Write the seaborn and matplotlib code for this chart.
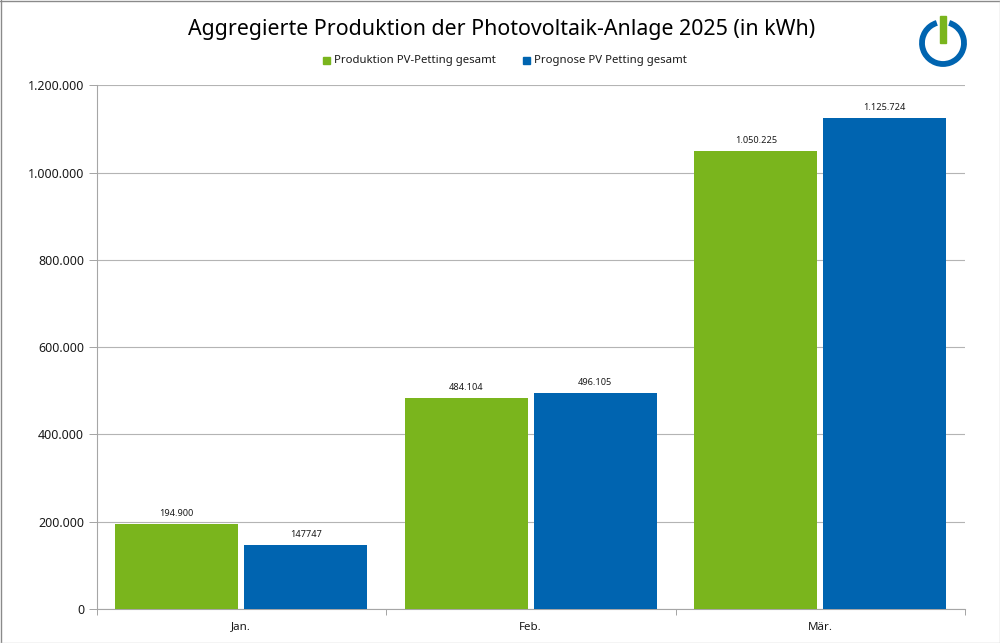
import matplotlib
matplotlib.use("Agg")
import matplotlib.pyplot as plt
import pandas as pd
import seaborn as sns
from matplotlib.patches import Arc, Rectangle

months = ["Jan.", "Feb.", "Mär."]
produktion = [194900, 484104, 1050225]
prognose = [147747, 496105, 1125724]
produktion_labels = ["194.900", "484.104", "1.050.225"]
prognose_labels = ["147747", "496.105", "1.125.724"]
y_ticks = [0, 200000, 400000, 600000, 800000, 1000000, 1200000]
y_tick_labels = ["0", "200.000", "400.000", "600.000", "800.000", "1.000.000", "1.200.000"]

GREEN = "#7ab51d"
BLUE = "#0064b0"
W, H = 1000, 643

sns.set_theme(style="white")
plt.rcParams["font.family"] = ["Noto Sans", "DejaVu Sans"]

df = pd.DataFrame({
    "Monat": months * 2,
    "kWh": produktion + prognose,
    "Serie": ["Produktion PV-Petting gesamt"] * 3 + ["Prognose PV Petting gesamt"] * 3,
})

fig = plt.figure(figsize=(W / 100, H / 100), dpi=100, facecolor="white")
ax = fig.add_axes([96.5 / W, 1 - 609 / H, (965 - 96.5) / W, (609 - 85.4) / H])

sns.barplot(data=df, x="Monat", y="kWh", hue="Serie", palette=[GREEN, BLUE],
            width=0.891, gap=0.046, saturation=1, linewidth=0, ax=ax, legend=False, zorder=3)

ax.set_xlim(-0.5, 2.5)
ax.set_ylim(0, 1200000)
ax.set_xlabel("")
ax.set_ylabel("")
ax.set_yticks(y_ticks)
ax.set_yticklabels(y_tick_labels)
ax.set_xticks([0.5, 1.5, 2.5, -0.5], minor=True)
ax.tick_params(axis="y", length=6, width=0.72, color="#a6a6a6", labelsize=9, labelcolor="#1a1a1a", pad=3, left=True)
ax.tick_params(axis="x", which="major", length=0, labelsize=8.3, labelcolor="#1a1a1a", pad=9)
ax.tick_params(axis="x", which="minor", length=4, width=0.72, color="#a6a6a6", bottom=True)
ax.grid(axis="y", color="#b4b4b4", linewidth=0.8)
ax.set_axisbelow(True)
for side in ["top", "right"]:
    ax.spines[side].set_visible(False)
for side in ["left", "bottom"]:
    ax.spines[side].set_color("#a6a6a6")
    ax.spines[side].set_linewidth(0.8)

# value labels are strings, the Jan. forecast has no separator in the original
ax.bar_label(ax.containers[0], labels=produktion_labels, fontsize=6.6, color="#1a1a1a", padding=4)
ax.bar_label(ax.containers[1], labels=prognose_labels, fontsize=6.6, color="#1a1a1a", padding=4)

fig.text(502 / W, 1 - 29 / H, "Aggregierte Produktion der Photovoltaik-Anlage 2025 (in kWh)",
         ha="center", va="center", fontsize=15.4, color="black")

# legend
fig.patches.append(Rectangle((323 / W, 1 - 64 / H), 7 / W, 7 / H, transform=fig.transFigure, color=GREEN))
fig.text(334 / W, 1 - 60 / H, "Produktion PV-Petting gesamt", va="center", fontsize=8.2, color="#1a1a1a")
fig.patches.append(Rectangle((522.5 / W, 1 - 64 / H), 7 / W, 7 / H, transform=fig.transFigure, color=BLUE))
fig.text(533.5 / W, 1 - 60 / H, "Prognose PV Petting gesamt", va="center", fontsize=8.2, color="#1a1a1a")

# logo
logo = fig.add_axes([915 / W, 1 - 70 / H, 56 / W, 56 / H])
logo.set_xlim(915, 971)
logo.set_ylim(70, 14)
logo.axis("off")
logo.add_patch(Arc((943, 43), 42, 42, theta1=-73, theta2=253, color=BLUE, linewidth=4.2))
logo.add_patch(Rectangle((940.3, 16), 5.5, 27, color=GREEN))

# outer frame
fig.add_artist(plt.Line2D([0.5 / W, 0.5 / W], [0, 1], color="#8a8a8a", linewidth=1))
fig.add_artist(plt.Line2D([0, 1], [1 - 0.5 / H, 1 - 0.5 / H], color="#8a8a8a", linewidth=1))
fig.add_artist(plt.Line2D([1 - 0.5 / W, 1 - 0.5 / W], [0, 1], color="#c8c8c8", linewidth=1))
fig.add_artist(plt.Line2D([0, 1], [0.5 / H, 0.5 / H], color="#c8c8c8", linewidth=1))

fig.savefig("out.png", dpi=100, facecolor="white")
